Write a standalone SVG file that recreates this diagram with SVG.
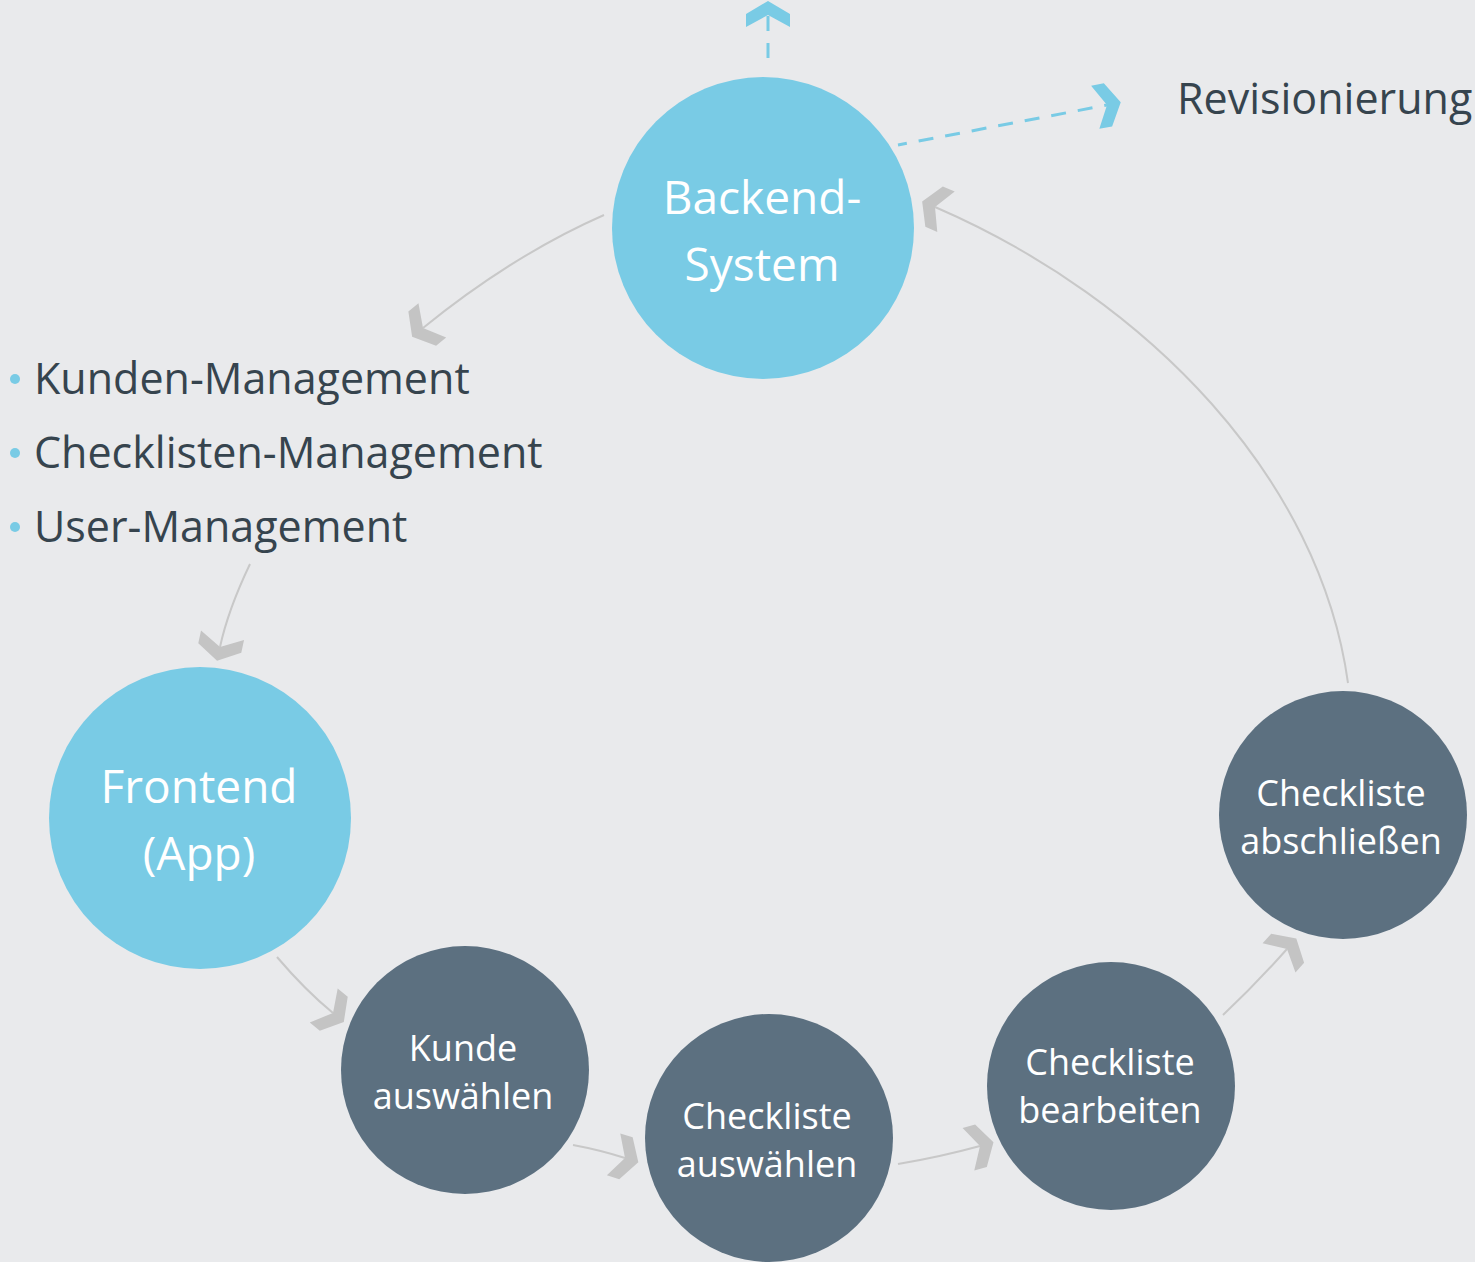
<svg xmlns="http://www.w3.org/2000/svg" width="1475" height="1262" viewBox="0 0 1475 1262">
<style>
.bg{fill:#e9eaec}
.blue{fill:#79cbe5}
.dark{fill:#5c7080}
.t{font-family:"Open Sans","Noto Sans","Liberation Sans",sans-serif;text-anchor:middle;fill:#ffffff}
.tb{font-size:46px}
.ts{font-size:36px}
.lt{font-family:"Open Sans","Noto Sans","Liberation Sans",sans-serif;font-size:43px;fill:#36444e}
.con{fill:none;stroke:#c8c8c8;stroke-width:2;marker-end:url(#chevG)}
.dash{fill:none;stroke:#79cbe5;stroke-width:3;stroke-dasharray:15 12;marker-end:url(#chevB)}
</style>
<defs>
<marker id="chevG" viewBox="-30 -26 34 52" refX="-14" refY="0" markerWidth="34" markerHeight="52" markerUnits="userSpaceOnUse" orient="auto">
<path d="M0,0 L-13,-22 L-26,-22 L-14,0 L-26,22 L-13,22 Z" fill="#c4c4c4"/>
</marker>
<marker id="chevB" viewBox="-30 -26 34 52" refX="-14" refY="0" markerWidth="34" markerHeight="52" markerUnits="userSpaceOnUse" orient="auto">
<path d="M0,0 L-13,-22 L-26,-22 L-14,0 L-26,22 L-13,22 Z" fill="#79cbe5"/>
</marker>
</defs>
<rect class="bg" x="0" y="0" width="1475" height="1262"/>
<g id="connectors">
<path class="con" d="M604,215 Q513,255 423,328"/>
<path class="con" d="M250,564 Q228,610 220,647"/>
<path class="con" d="M277,957 Q305,990 333,1013"/>
<path class="con" d="M573,1145 Q600,1150 625,1158"/>
<path class="con" d="M898,1164 Q940,1157 980,1146"/>
<path class="con" d="M1223,1015 Q1255,985 1287,949"/>
<path class="con" d="M1348,683 C1320,480 1150,300 935,207"/>
<path class="dash" d="M768,58 L768,15"/>
<path class="dash" d="M898,145 L1107,105" stroke-dashoffset="6"/>
</g>
<g id="backend">
<circle class="blue" cx="763" cy="228" r="151"/>
<text class="t tb" x="762" y="214">Backend-</text>
<text class="t tb" x="762" y="281">System</text>
</g>
<g id="frontend">
<circle class="blue" cx="200" cy="818" r="151"/>
<text class="t tb" x="199" y="803">Frontend</text>
<text class="t tb" x="199" y="870">(App)</text>
</g>
<g id="kunde-auswaehlen">
<circle class="dark" cx="465" cy="1070" r="124"/>
<text class="t ts" x="463" y="1061">Kunde</text>
<text class="t ts" x="463" y="1109">auswählen</text>
</g>
<g id="checkliste-auswaehlen">
<circle class="dark" cx="769" cy="1138" r="124"/>
<text class="t ts" x="767" y="1129">Checkliste</text>
<text class="t ts" x="767" y="1177">auswählen</text>
</g>
<g id="checkliste-bearbeiten">
<circle class="dark" cx="1111" cy="1086" r="124"/>
<text class="t ts" x="1110" y="1075">Checkliste</text>
<text class="t ts" x="1110" y="1123">bearbeiten</text>
</g>
<g id="checkliste-abschliessen">
<circle class="dark" cx="1343" cy="815" r="124"/>
<text class="t ts" x="1341" y="806">Checkliste</text>
<text class="t ts" x="1341" y="854">abschließen</text>
</g>
<g id="management-list">
<circle class="blue" cx="15" cy="379" r="5"/>
<text class="lt" x="34" y="394">Kunden-Management</text>
<circle class="blue" cx="15" cy="453" r="5"/>
<text class="lt" x="34" y="468">Checklisten-Management</text>
<circle class="blue" cx="15" cy="527" r="5"/>
<text class="lt" x="34" y="542">User-Management</text>
</g>
<g id="revisionierung">
<text class="lt" x="1177" y="114">Revisionierung</text>
</g>
</svg>
